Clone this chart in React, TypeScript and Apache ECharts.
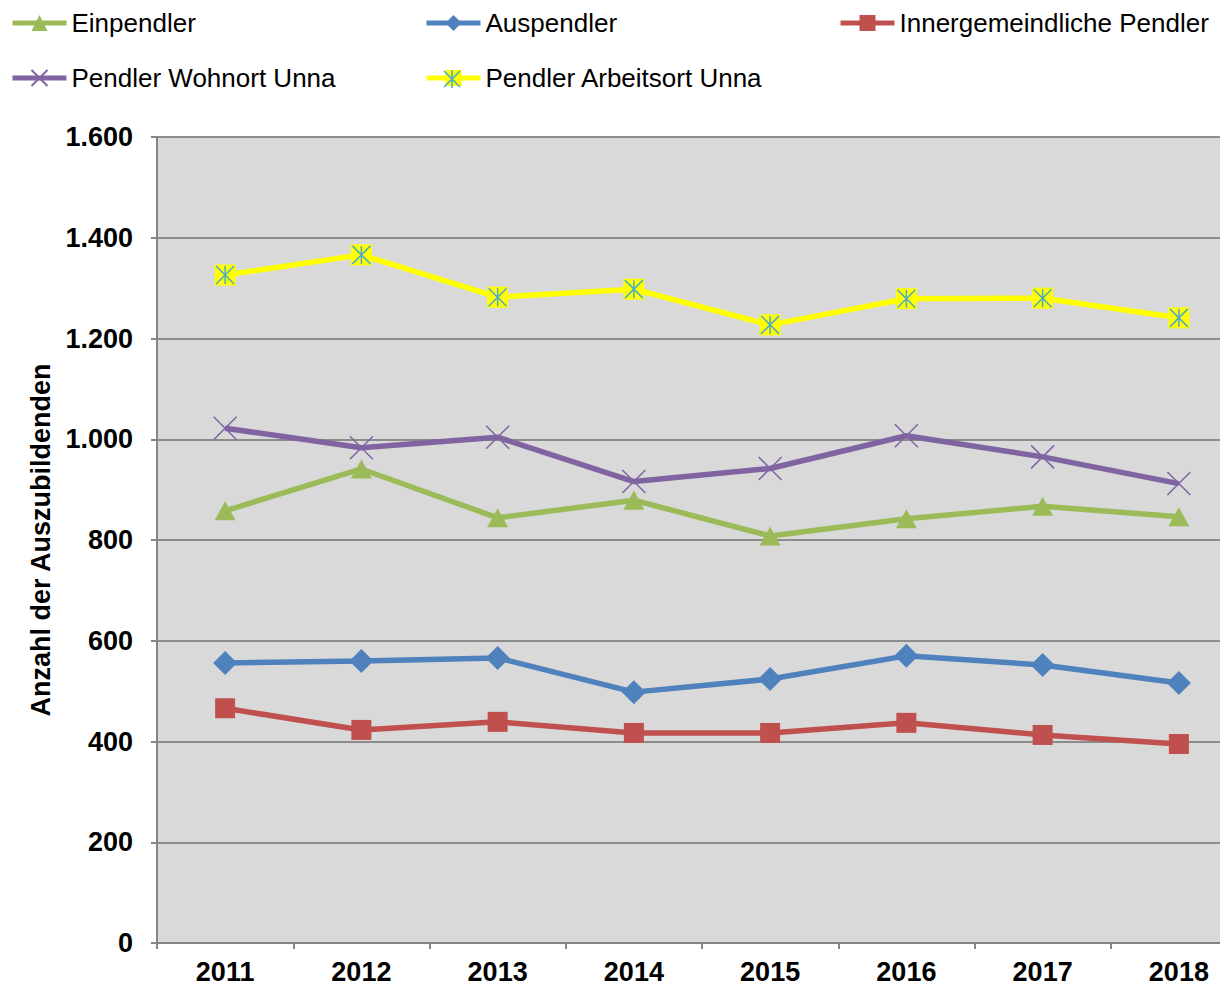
import React, { useEffect, useRef } from "react";
import * as echarts from "echarts";

const years = ["2011", "2012", "2013", "2014", "2015", "2016", "2017", "2018"];
const einpendler = [858, 941, 844, 879, 808, 842, 867, 846];
const auspendler = [556, 560, 566, 498, 524, 570, 552, 516];
const innergemeindlich = [466, 423, 439, 417, 417, 437, 413, 395];
const wohnortUnna = [1022, 983, 1004, 916, 942, 1007, 965, 912];
const arbeitsortUnna = [1326, 1366, 1282, 1298, 1227, 1279, 1280, 1241];

const fmt = (v: number) => String(v).replace(/\B(?=(\d{3})+(?!\d))/g, ".");

const CROSS = "path://M0,0L10,10M10,0L0,10";
const ASTER = "path://M0,0L10,10M10,0L0,10M5,0L5,10";

export default function App() {
  const ref = useRef<HTMLDivElement>(null);
  useEffect(() => {
    if (!ref.current) return;
    const chart = echarts.init(ref.current, undefined, { renderer: "svg" });
    const font = "Liberation Sans, Arial, sans-serif";
    const legendBase = (name: string, left: number, top: number) => ({
      data: [name],
      left,
      top,
      padding: 0,
      itemWidth: 54,
      itemHeight: 20,
      selectedMode: false,
      lineStyle: { width: 5 },
      textStyle: { fontFamily: font, fontSize: 26, color: "#000", lineHeight: 28 },
    });
    const lw = 5.5;
    const ast = { stroke: "#4bacc6", lineWidth: 1.6 };
    chart.setOption({
      animation: false,
      textStyle: { fontFamily: font },
      legend: [
        legendBase("Einpendler", 10, 9),
        legendBase("Auspendler", 424, 9),
        legendBase("Innergemeindliche Pendler", 838, 9),
        legendBase("Pendler Wohnort Unna", 10, 64),
        legendBase("Pendler Arbeitsort Unna", 424, 64),
      ],
      graphic: [
        { type: "line", z: 200, zlevel: 1, shape: { x1: 444, y1: 71, x2: 460, y2: 87 }, style: ast },
        { type: "line", z: 200, zlevel: 1, shape: { x1: 460, y1: 71, x2: 444, y2: 87 }, style: ast },
        { type: "line", z: 200, zlevel: 1, shape: { x1: 452, y1: 70, x2: 452, y2: 88 }, style: ast },
      ],
      grid: { left: 157, top: 137, right: 13, bottom: 42, backgroundColor: "#d9d9d9", show: true, borderWidth: 0 },
      xAxis: {
        type: "category",
        data: years,
        boundaryGap: true,
        axisLine: { lineStyle: { color: "#868686", width: 2 } },
        axisTick: { show: true, length: 6, lineStyle: { color: "#868686", width: 2 } },
        axisLabel: { fontSize: 27, fontWeight: "bold", color: "#000", margin: 15, fontFamily: font },
      },
      yAxis: {
        type: "value",
        min: 0,
        max: 1600,
        interval: 200,
        name: "Anzahl der Auszubildenden",
        nameLocation: "middle",
        nameGap: 99,
        nameTextStyle: { fontSize: 27, fontWeight: "bold", color: "#000", fontFamily: font },
        axisLine: { show: true, lineStyle: { color: "#868686", width: 2 } },
        axisTick: { show: true, length: 6, lineStyle: { color: "#868686", width: 2 } },
        splitLine: { lineStyle: { color: "#8c8c8c", width: 2 } },
        axisLabel: { fontSize: 27, fontWeight: "bold", color: "#000", margin: 24, formatter: fmt, fontFamily: font },
      },
      series: [
        {
          name: "Einpendler",
          type: "line",
          data: einpendler,
          symbol: "triangle",
          symbolSize: [21, 19],
          itemStyle: { color: "#9bbb59" },
          lineStyle: { color: "#9bbb59", width: lw },
        },
        {
          name: "Auspendler",
          type: "line",
          data: auspendler,
          symbol: "diamond",
          symbolSize: [24, 24],
          itemStyle: { color: "#4f81bd" },
          lineStyle: { color: "#4f81bd", width: lw },
        },
        {
          name: "Innergemeindliche Pendler",
          type: "line",
          data: innergemeindlich,
          symbol: "rect",
          symbolSize: 20,
          itemStyle: { color: "#c0504d" },
          lineStyle: { color: "#c0504d", width: lw },
        },
        {
          name: "Pendler Wohnort Unna",
          type: "line",
          data: wohnortUnna,
          symbol: CROSS,
          symbolSize: 23,
          itemStyle: { color: "transparent", borderColor: "#8064a2", borderWidth: 1.5 },
          lineStyle: { color: "#8064a2", width: lw },
        },
        {
          name: "Pendler Arbeitsort Unna",
          type: "line",
          data: arbeitsortUnna,
          symbol: "rect",
          symbolSize: 21,
          itemStyle: { color: "#ffff00" },
          lineStyle: { color: "#ffff00", width: lw },
        },
        {
          name: "arbeitsort-marker",
          type: "line",
          data: arbeitsortUnna,
          symbol: ASTER,
          symbolSize: 18,
          silent: true,
          itemStyle: { color: "transparent", borderColor: "#4bacc6", borderWidth: 1.5 },
          lineStyle: { width: 0, opacity: 0 },
        },
      ],
    });
    return () => chart.dispose();
  }, []);
  return (
    <div style={{ position: "absolute", left: 0, top: 0, width: 1220, height: 985, overflow: "hidden", background: "#fff" }}>
      <div ref={ref} style={{ width: 1260, height: 985 }} />
    </div>
  );
}
